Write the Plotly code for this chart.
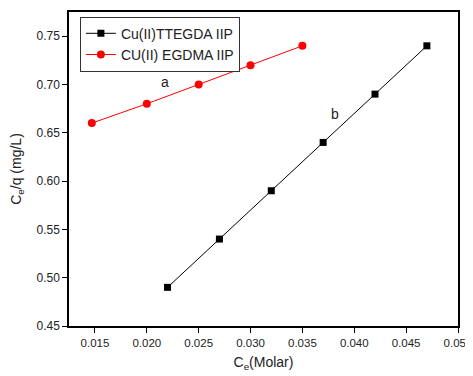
import plotly.graph_objects as go

x_ttegda = [0.022, 0.027, 0.032, 0.037, 0.042, 0.047]
y_ttegda = [0.49, 0.54, 0.59, 0.64, 0.69, 0.74]
x_egdma = [0.0147, 0.020, 0.025, 0.030, 0.035]
y_egdma = [0.66, 0.68, 0.70, 0.72, 0.74]
x_ticks = [0.015, 0.020, 0.025, 0.030, 0.035, 0.040, 0.045, 0.050]
y_ticks = [0.45, 0.50, 0.55, 0.60, 0.65, 0.70, 0.75]

fig = go.Figure()
fig.add_trace(go.Scatter(x=x_ttegda, y=y_ttegda, mode="lines+markers",
                         name="Cu(II)TTEGDA IIP",
                         line=dict(color="black", width=1),
                         marker=dict(symbol="square", size=7, color="black")))
fig.add_trace(go.Scatter(x=x_egdma, y=y_egdma, mode="lines+markers",
                         name="CU(II) EGDMA IIP",
                         line=dict(color="red", width=1),
                         marker=dict(symbol="circle", size=8, color="red")))

fig.add_annotation(x=0.0218, y=0.7025, text="a", showarrow=False,
                   font=dict(size=14, color="#222"))
fig.add_annotation(x=0.0381, y=0.669, text="b", showarrow=False,
                   font=dict(size=14, color="#222"))

axis_common = dict(showgrid=False, zeroline=False, showline=True, linecolor="black",
                   linewidth=1.5, mirror=True, ticks="outside", ticklen=5,
                   tickcolor="black", tickwidth=1.2, automargin=False)
fig.update_xaxes(range=[0.0125, 0.050], tickvals=x_ticks,
                 ticktext=[f"{v:.3f}" for v in x_ticks],
                 ticklabeloverflow="allow",
                 tickfont=dict(size=11.5, color="#222"),
                 title=dict(text="C<sub>e</sub>(Molar)", font=dict(size=14, color="#222"),
                            standoff=10), **axis_common)
fig.update_yaxes(range=[0.45, 0.775], tickvals=y_ticks,
                 ticktext=[f"{v:.2f}" for v in y_ticks],
                 tickfont=dict(size=12, color="#222"),
                 title=dict(text="C<sub>e</sub>/q (mg/L)", font=dict(size=14, color="#222"),
                            standoff=12), **axis_common)

fig.update_layout(width=465, height=368, margin=dict(l=61, r=15, t=4, b=50),
                  paper_bgcolor="white", plot_bgcolor="white",
                  font=dict(family="Arial, Liberation Sans, sans-serif"),
                  legend=dict(x=0.028, y=0.985, xanchor="left", yanchor="top",
                              bgcolor="white", bordercolor="#333", borderwidth=1,
                              font=dict(size=14, color="#222"),
                              tracegroupgap=0, itemwidth=30))
fig.write_html("out.html")
